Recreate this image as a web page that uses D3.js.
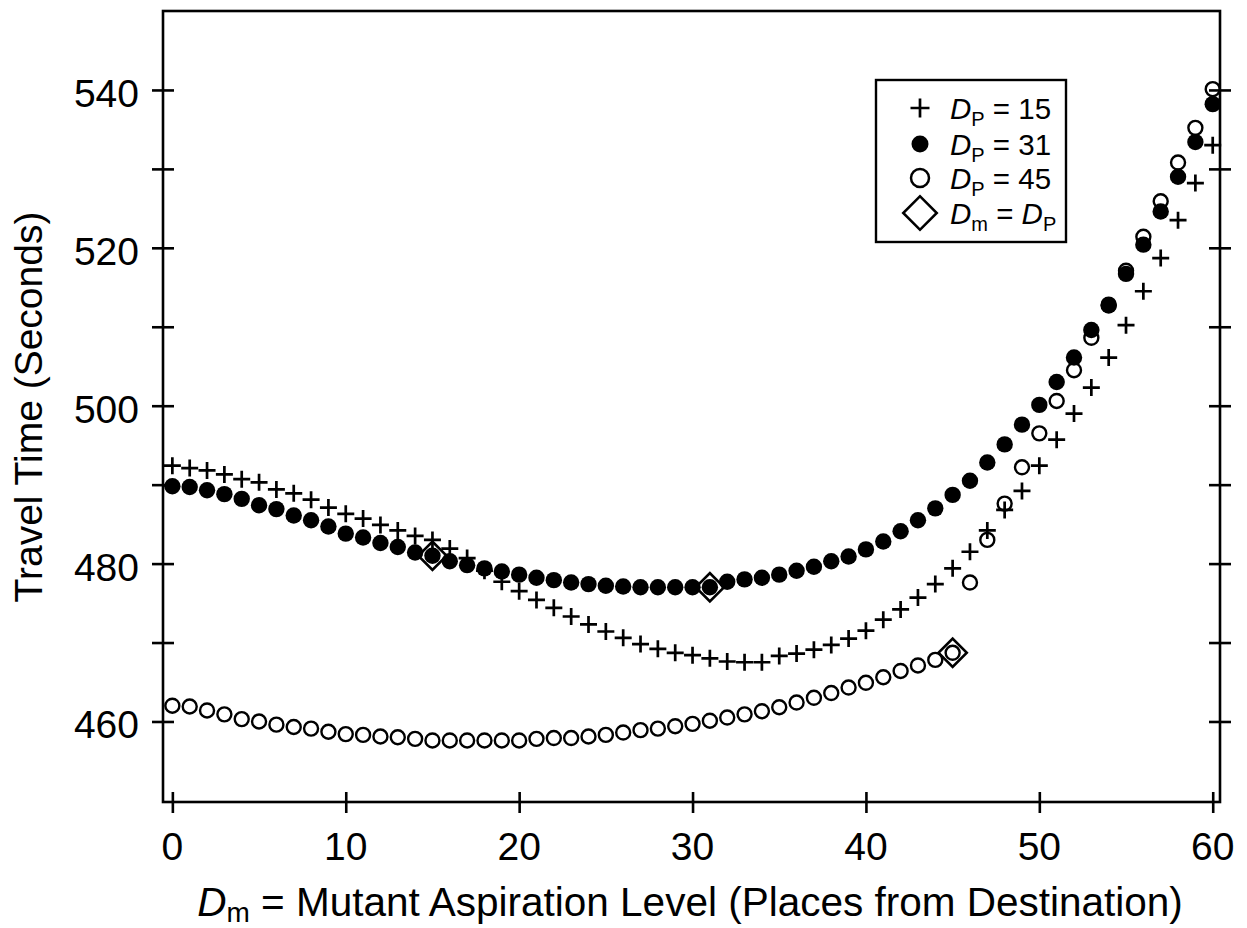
<!DOCTYPE html>
<html>
<head>
<meta charset="utf-8">
<script src="https://cdn.jsdelivr.net/npm/d3@7"></script>
<style>
  body { margin: 0; background: #fff; }
  svg { display: block; }
  text { font-family: "Liberation Sans", Arial, Helvetica, sans-serif; fill: #000; }
</style>
</head>
<body>
<svg id="canvas" width="1247" height="928"></svg>
<script>
// x categories: mutant aspiration level 0..60
let dmValues = d3.range(0, 61)

// travel time (seconds) for each Dm
let dp15 = [492.4, 492.1, 491.8, 491.3, 490.7, 490.3, 489.4, 488.9, 488.1, 487.1,
            486.3, 485.7, 484.9, 484.2, 483.5, 483.0, 481.9, 480.7, 479.1, 477.7,
            476.5, 475.4, 474.4, 473.3, 472.3, 471.4, 470.6, 469.8, 469.2, 468.7,
            468.4, 468.0, 467.6, 467.5, 467.5, 468.3, 468.6, 469.1, 469.7, 470.5,
            471.5, 472.9, 474.2, 475.7, 477.4, 479.4, 481.5, 484.2, 486.8, 489.2,
            492.4, 495.7, 499.0, 502.3, 506.1, 510.2, 514.5, 518.7, 523.5, 528.2,
            533.0]

let dp31 = [489.8, 489.7, 489.3, 488.8, 488.2, 487.4, 486.9, 486.1, 485.5, 484.7,
            483.8, 483.3, 482.6, 482.1, 481.4, 481.0, 480.3, 479.8, 479.4, 479.0,
            478.6, 478.2, 477.9, 477.6, 477.4, 477.2, 477.1, 477.0, 477.0, 477.0,
            477.0, 477.0, 477.7, 478.0, 478.2, 478.6, 479.1, 479.6, 480.3, 480.9,
            481.8, 482.8, 484.1, 485.5, 487.0, 488.7, 490.5, 492.8, 495.1, 497.6,
            500.1, 503.0, 506.1, 509.6, 512.7, 516.7, 520.4, 524.6, 529.0, 533.4,
            538.2]

let dp45 = [462.0, 461.9, 461.4, 460.9, 460.3, 460.0, 459.6, 459.3, 459.1, 458.7,
            458.4, 458.3, 458.1, 458.0, 457.8, 457.6, 457.6, 457.6, 457.6, 457.6,
            457.6, 457.8, 457.9, 457.9, 458.1, 458.3, 458.6, 458.9, 459.1, 459.4,
            459.7, 460.1, 460.5, 460.9, 461.3, 461.8, 462.4, 463.0, 463.6, 464.3,
            464.9, 465.6, 466.4, 467.1, 467.8, 468.7, 477.6, 483.0, 487.6, 492.2,
            496.5, 500.6, 504.5, 508.6, 512.8, 517.1, 521.4, 525.9, 530.8, 535.2,
            540.1]

// points where Dm = Dp
let equalDm = [15, 31, 45]
let equalTime = [481.0, 477.0, 468.7]

let xTicks = [0, 10, 20, 30, 40, 50, 60]
let yTicks = [460, 470, 480, 490, 500, 510, 520, 530, 540]
let yLabels = [460, 480, 500, 520, 540]

let canvas = d3.select('#canvas')

let plotLeft = 163, plotRight = 1220, plotTop = 11, plotBottom = 802

let x = d3.scaleLinear().domain([-0.54, 60.42]).range([plotLeft, plotRight])
let y = d3.scaleLinear().domain([449.8, 550]).range([plotBottom, plotTop])

let plusPath = (h) => 'M' + (-h) + ',0H' + h + 'M0,' + (-h) + 'V' + h
let diamond = d3.symbol().type(d3.symbolSquare)

// frame
canvas.append('rect')
    .attr('x', plotLeft).attr('y', plotTop)
    .attr('width', plotRight - plotLeft).attr('height', plotBottom - plotTop)
    .attr('fill', 'none').attr('stroke', '#000').attr('stroke-width', 2.6)

// left axis with crossing ticks
let yAxis = canvas.append('g')
    .attr('transform', 'translate(' + plotLeft + ',0)')
    .call(d3.axisLeft(y).tickValues(yTicks).tickSize(11).tickFormat(''))
yAxis.select('.domain').remove()
yAxis.selectAll('.tick line').attr('x2', -11).attr('x1', 11).attr('stroke-width', 2.6)

// right axis ticks
let yAxisR = canvas.append('g')
    .attr('transform', 'translate(' + plotRight + ',0)')
    .call(d3.axisRight(y).tickValues(yTicks).tickSize(11).tickFormat(''))
yAxisR.select('.domain').remove()
yAxisR.selectAll('.tick line').attr('x1', -11).attr('stroke-width', 2.6)

// bottom axis
let xAxis = canvas.append('g')
    .attr('transform', 'translate(0,' + plotBottom + ')')
    .call(d3.axisBottom(x).tickValues(xTicks).tickSize(11).tickFormat(''))
xAxis.select('.domain').remove()
xAxis.selectAll('.tick line').attr('y1', -10).attr('y2', 11).attr('stroke-width', 2.6)

// tick labels
canvas.selectAll('.ylab')
    .data(yLabels)
    .enter().append('text')
    .attr('class', 'ylab')
    .attr('x', 139)
    .attr('y', (d) => y(d) + 17)
    .attr('text-anchor', 'end')
    .attr('font-size', 39)
    .text((d) => d)

canvas.selectAll('.xlab')
    .data(xTicks)
    .enter().append('text')
    .attr('class', 'xlab')
    .attr('x', (d) => x(d))
    .attr('y', 860)
    .attr('text-anchor', 'middle')
    .attr('font-size', 39)
    .text((d) => d)

// axis titles
canvas.append('text')
    .attr('transform', 'translate(42,407) rotate(-90)')
    .attr('text-anchor', 'middle')
    .attr('font-size', 39)
    .text('Travel Time (Seconds)')

let xTitle = canvas.append('text')
    .attr('x', 690).attr('y', 916)
    .attr('text-anchor', 'middle')
    .attr('font-size', 40.5)
xTitle.append('tspan').attr('font-style', 'italic').text('D')
xTitle.append('tspan').attr('font-size', 28).attr('dy', 6).text('m')
xTitle.append('tspan').attr('dy', -6).text(' = Mutant Aspiration Level (Places from Destination)')

// series: open circles, filled circles, pluses, diamonds
canvas.append('g').selectAll('circle')
    .data(dmValues)
    .enter().append('circle')
    .attr('cx', (d) => x(d))
    .attr('cy', (d, i) => y(dp45[i]))
    .attr('r', 7)
    .attr('fill', 'none')
    .attr('stroke', '#000')
    .attr('stroke-width', 2.4)

canvas.append('g').selectAll('circle')
    .data(dmValues)
    .enter().append('circle')
    .attr('cx', (d) => x(d))
    .attr('cy', (d, i) => y(dp31[i]))
    .attr('r', 8.2)
    .attr('fill', '#000')

canvas.append('g').selectAll('path')
    .data(dmValues)
    .enter().append('path')
    .attr('transform', (d, i) => 'translate(' + x(d) + ',' + y(dp15[i]) + ')')
    .attr('d', plusPath(8.5))
    .attr('fill', 'none')
    .attr('stroke', '#000')
    .attr('stroke-width', 2.7)

canvas.append('g').selectAll('path')
    .data(equalDm)
    .enter().append('path')
    .attr('transform', (d, i) => 'translate(' + x(d) + ',' + y(equalTime[i]) + ') rotate(45)')
    .attr('d', diamond.size(400)())
    .attr('fill', 'none')
    .attr('stroke', '#000')
    .attr('stroke-width', 2.6)

// legend
let legend = canvas.append('g')
legend.append('rect')
    .attr('x', 876).attr('y', 80)
    .attr('width', 190).attr('height', 162)
    .attr('fill', '#fff').attr('stroke', '#000').attr('stroke-width', 2.4)

let legendRows = [
    { sub: 'P', rest: ' = 15', cy: 108 },
    { sub: 'P', rest: ' = 31', cy: 144 },
    { sub: 'P', rest: ' = 45', cy: 178 },
    { sub: 'm', rest: ' = ', cy: 213 }
]

legend.append('path')
    .attr('transform', 'translate(920,' + legendRows[0].cy + ')')
    .attr('d', plusPath(9.5))
    .attr('stroke', '#000').attr('stroke-width', 2.7).attr('fill', 'none')
legend.append('circle')
    .attr('cx', 920).attr('cy', legendRows[1].cy).attr('r', 8.5)
    .attr('fill', '#000')
legend.append('circle')
    .attr('cx', 920).attr('cy', legendRows[2].cy).attr('r', 9)
    .attr('fill', 'none').attr('stroke', '#000').attr('stroke-width', 2.5)
legend.append('path')
    .attr('transform', 'translate(920,' + legendRows[3].cy + ') rotate(45)')
    .attr('d', diamond.size(560)())
    .attr('fill', 'none').attr('stroke', '#000').attr('stroke-width', 2.6)

legendRows.forEach((row, i) => {
    let t = legend.append('text')
        .attr('x', 950).attr('y', row.cy + 11)
        .attr('font-size', 29.5)
    t.append('tspan').attr('font-style', 'italic').text('D')
    t.append('tspan').attr('font-size', 20).attr('dy', 7).text(row.sub)
    t.append('tspan').attr('dy', -7).text(row.rest)
    if (i === 3) {
        t.append('tspan').attr('font-style', 'italic').text('D')
        t.append('tspan').attr('font-size', 20).attr('dy', 7).text('P')
    }
})
</script>
</body>
</html>
